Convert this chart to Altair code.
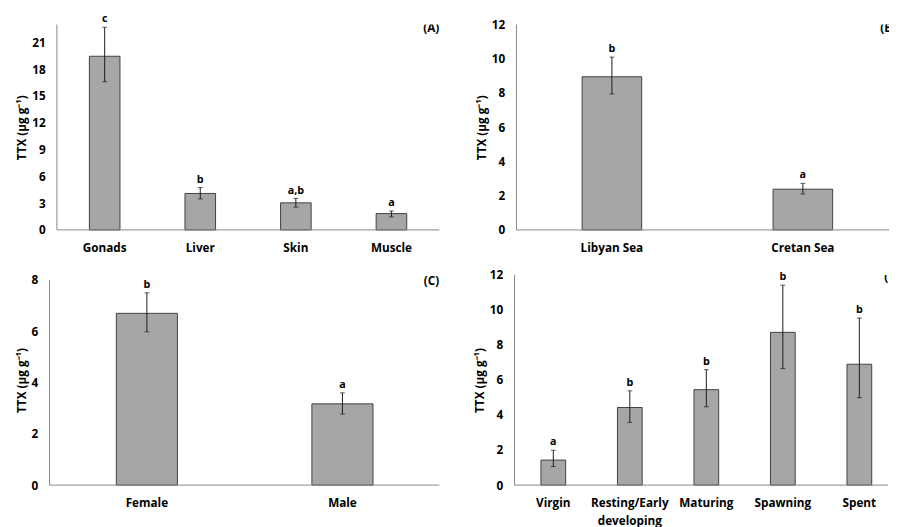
import altair as alt
import pandas as pd

FONT = "Open Sans"
YTITLE = "TTX (µg g⁻¹)"

# (A) tissues
tissues = ["Gonads", "Liver", "Skin", "Muscle"]
tissue_mean = [19.45, 4.08, 3.03, 1.83]
tissue_lo = [16.6, 3.47, 2.55, 1.46]
tissue_hi = [22.7, 4.74, 3.53, 2.11]
tissue_letter = ["c", "b", "a,b", "a"]
tissue_ticks = [0, 3, 6, 9, 12, 15, 18, 21]

# (B) area
areas = ["Libyan Sea", "Cretan Sea"]
area_mean = [8.95, 2.38]
area_lo = [7.94, 2.1]
area_hi = [10.1, 2.72]
area_letter = ["b", "a"]
area_ticks = [0, 2, 4, 6, 8, 10, 12]

# (C) sex
sexes = ["Female", "Male"]
sex_mean = [6.7, 3.17]
sex_lo = [5.98, 2.77]
sex_hi = [7.5, 3.6]
sex_letter = ["b", "a"]
sex_ticks = [0, 2, 4, 6, 8]

# (D) maturity stage
stages = ["Virgin", "Resting/Early developing", "Maturing", "Spawning", "Spent"]
stage_mean = [1.43, 4.43, 5.45, 8.72, 6.9]
stage_lo = [1.06, 3.58, 4.47, 6.66, 4.99]
stage_hi = [1.99, 5.38, 6.59, 11.41, 9.54]
stage_letter = ["a", "b", "b", "b", "b"]
stage_ticks = [0, 2, 4, 6, 8, 10, 12]


def panel(cats, means, lows, highs, letters, ymax, axis_top, yticks, width, height,
          tag, tag_x, tag_y, tag_align, pin, pout, palign, shift=0):
    df = pd.DataFrame({"cat": cats, "mean": means, "lo": lows, "hi": highs, "letter": letters})
    yscale = alt.Scale(domain=[0, ymax], nice=False, zero=True)
    yaxis = alt.Axis(values=yticks, title=YTITLE, grid=False, ticks=False, domain=False,
                     labelPadding=12, titlePadding=3, offset=shift)
    xenc = alt.X(
        "cat:N", sort=cats, title=None,
        scale=alt.Scale(paddingInner=pin, paddingOuter=pout, align=palign),
        axis=alt.Axis(labelAngle=0, ticks=False, labelPadding=13, domain=False,
                      labelLineHeight=18,
                      labelExpr="indexof(datum.label, '/') >= 0 ? split(datum.label, ' ') : datum.label"),
    )
    base = alt.Chart(df).encode(x=xenc)
    bars = base.mark_bar(color="#a6a6a6", stroke="#404040", strokeWidth=1).encode(
        y=alt.Y("mean:Q", scale=yscale, axis=yaxis)
    )
    err = base.mark_rule(color="#1a1a1a", strokeWidth=1).encode(
        y=alt.Y("lo:Q", scale=yscale, axis=yaxis), y2="hi:Q")
    cap_hi = base.mark_tick(color="#1a1a1a", size=5, thickness=1).encode(
        y=alt.Y("hi:Q", scale=yscale, axis=yaxis))
    cap_lo = base.mark_tick(color="#1a1a1a", size=5, thickness=1).encode(
        y=alt.Y("lo:Q", scale=yscale, axis=yaxis))
    text = base.mark_text(baseline="alphabetic", dy=-5, font=FONT, fontWeight="bold",
                          fontSize=11, color="black").encode(
        y=alt.Y("hi:Q", scale=yscale, axis=yaxis), text="letter:N")
    yline = alt.Chart(pd.DataFrame({"y0": [0], "y1": [axis_top]})).mark_rule(
        color="#868686", strokeWidth=1).encode(
        x=alt.value(-shift), y=alt.Y("y0:Q", scale=yscale, axis=yaxis), y2="y1:Q")
    xline = alt.Chart(pd.DataFrame({"y0": [0]})).mark_rule(
        color="#868686", strokeWidth=1).encode(
        x=alt.value(-shift), x2=alt.value(width), y=alt.Y("y0:Q", scale=yscale, axis=yaxis))
    tagc = alt.Chart(pd.DataFrame({"t": [tag]})).mark_text(
        align=tag_align, baseline="middle", font=FONT, fontWeight="bold", fontSize=12,
        color="black", clip=True).encode(x=alt.value(tag_x), y=alt.value(tag_y), text="t:N")
    return alt.layer(bars, err, cap_hi, cap_lo, text, yline, xline, tagc).properties(
        width=width, height=height)


A = panel(tissues, tissue_mean, tissue_lo, tissue_hi, tissue_letter, 23, 23, tissue_ticks,
          391, 210, "(A)", 391, 4, "right", 0.68, 0.34, 0.5)
B = panel(areas, area_mean, area_lo, area_hi, area_letter, 12, 12, area_ticks,
          381, 210, "(B)", 372, 4, "left", 0.688, 0.3195, 0.538)
C = panel(sexes, sex_mean, sex_lo, sex_hi, sex_letter, 8.2, 8, sex_ticks,
          391, 215, "(C)", 391, 6, "right", 0.6875, 0.32125, 0.473, shift=7.5)
D = panel(stages, stage_mean, stage_lo, stage_hi, stage_letter, 12, 12, stage_ticks,
          382, 215, "(D)", 378, 2, "left", 0.677, 0.2795, 0.618)

row1 = alt.hconcat(A, B, spacing=36)
row2 = alt.hconcat(C, D, spacing=34)
chart = alt.vconcat(row1, row2, spacing=16).properties(
    padding={"left": 7, "top": -1, "right": 0, "bottom": 0}
).configure_view(stroke=None).configure_axis(
    labelFont=FONT, titleFont=FONT, labelFontWeight="bold", titleFontWeight="bold",
    labelFontSize=12, titleFontSize=12, labelColor="black", titleColor="black"
)

chart.save("out.html", embed_options={"renderer": "svg", "actions": False})
